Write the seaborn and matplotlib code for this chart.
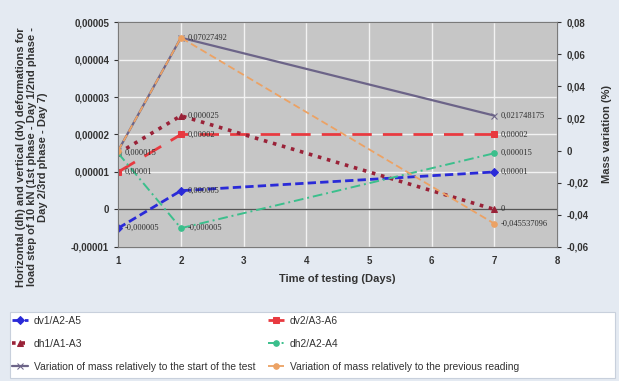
import matplotlib
matplotlib.use("Agg")
import matplotlib.pyplot as plt
import matplotlib.ticker as mticker
from matplotlib.patches import Rectangle
import numpy as np
import pandas as pd
import seaborn as sns

# Days of testing
days = [1, 2, 7]

# Deformations for the 10 kN load step (left axis)
dv1 = [-0.000005, 0.000005, 0.00001]
dv2 = [0.00001, 0.00002, 0.00002]
dh1 = [0.000015, 0.000025, 0.0]
dh2 = [0.000015, -0.000005, 0.000015]

# Mass variation in % (right axis)
mass_start = [0.0, 0.07027492, 0.021748175]
mass_prev = [0.0, 0.07027492, -0.045537096]

# Point labels ("" = not shown)
dv1_lbl = ["-0,000005", "0,000005", "0,00001"]
dv2_lbl = ["0,00001", "0,00002", "0,00002"]
dh1_lbl = ["0,000015", "0,000025", "0"]
dh2_lbl = ["", "-0,000005", "0,000015"]
mass_start_lbl = ["", "0,07027492", "0,021748175"]
mass_prev_lbl = ["", "", "-0,045537096"]

left_ticks = [-0.00001, 0, 0.00001, 0.00002, 0.00003, 0.00004, 0.00005]
right_ticks = [-0.06, -0.04, -0.02, 0, 0.02, 0.04, 0.06, 0.08]
x_ticks = [1, 2, 3, 4, 5, 6, 7, 8]

sns.set_style("white")
plt.rcParams["font.family"] = ["Liberation Sans", "DejaVu Sans"]

fig = plt.figure(figsize=(6.19, 3.81), dpi=100)
fig.patch.set_facecolor("#e4eaf2")
ax = fig.add_axes([0.191, 0.352, 0.709, 0.590])
ax.set_facecolor("#c6c6c6")
ax2 = ax.twinx()

left_series = [
    ("dv1/A2-A5", dv1, dv1_lbl, "#2a2ad8", (0, (3, 1.5)), "D", 2.0),
    ("dv2/A3-A6", dv2, dv2_lbl, "#e83a40", (0, (7, 4)), "s", 2.0),
    ("dh1/A1-A3", dh1, dh1_lbl, "#9a2238", (0, (1, 1.6)), "^", 2.6),
    ("dh2/A2-A4", dh2, dh2_lbl, "#3bbf8c", (0, (5, 2, 1, 2)), "o", 1.4),
]
right_series = [
    ("Variation of mass relatively to the start of the test", mass_start,
     mass_start_lbl, "#6c6488", "-", "x", 1.6),
    ("Variation of mass relatively to the previous reading", mass_prev,
     mass_prev_lbl, "#eca264", (0, (4, 2)), "o", 1.3),
]

handles = {}
for axis, series in ((ax, left_series), (ax2, right_series)):
    for name, vals, lbls, color, ls, mk, lw in series:
        df = pd.DataFrame({"day": days, "value": vals})
        sns.lineplot(data=df, x="day", y="value", ax=axis, color=color,
                     linestyle=ls, linewidth=lw, marker=mk, markersize=4,
                     markeredgecolor=color, label=name, legend=False)
        handles[name] = axis.lines[-1]
        for d, v, t in zip(days, vals, lbls):
            if t:
                axis.text(d + 0.1, v, t, fontsize=6, color="#2e2e2e",
                          family="Liberation Serif", va="center", ha="left")

ax.set_xlim(1, 8)
ax.set_ylim(-0.00001, 0.00005)
ax2.set_ylim(-0.06, 0.08)
ax.set_xticks(x_ticks)
ax.set_yticks(left_ticks)
ax2.set_yticks(right_ticks)


def comma_fmt(v, _pos):
    if abs(v) < 1e-12:
        return "0"
    s = ("%.5f" % v) if abs(v) < 0.001 else ("%.2f" % v)
    return s.replace(".", ",")


ax.yaxis.set_major_formatter(mticker.FuncFormatter(comma_fmt))
ax2.yaxis.set_major_formatter(mticker.FuncFormatter(comma_fmt))

ax.grid(True, color="#f2f2f2", linewidth=1.0)
ax.set_axisbelow(True)
ax.axhline(0, color="#555555", linewidth=1.0, zorder=1)

for a in (ax, ax2):
    for sp in a.spines.values():
        sp.set_color("#7a7a7a")
        sp.set_linewidth(0.8)
    a.tick_params(labelsize=7, colors="#333333", length=3)
for lab in ax.get_yticklabels() + ax2.get_yticklabels() + ax.get_xticklabels():
    lab.set_fontweight("bold")

ax.set_xlabel("Time of testing (Days)", fontsize=8, fontweight="bold",
              color="#333333", labelpad=6)
ax.set_ylabel("Horizontal (dh) and vertical (dv) deformations for\n"
              "load step of 10 kN (1st phase - Day 1/2nd phase -\n"
              "Day 2/3rd phase - Day 7)", fontsize=8, fontweight="bold",
              color="#333333", linespacing=1.1)
ax.yaxis.set_label_coords(-0.16, 0.40)
ax2.set_ylabel("Mass variation (%)", fontsize=8, fontweight="bold",
               color="#333333", labelpad=10)

# White panel behind the legend
fig.add_artist(Rectangle((10 / 619, 3 / 381), 605 / 619, 66 / 381,
                         transform=fig.transFigure, facecolor="white",
                         edgecolor="#c8d0dc", linewidth=0.8, zorder=0))

col1 = ["dv1/A2-A5", "dh1/A1-A3",
        "Variation of mass relatively to the start of the test"]
col2 = ["dv2/A3-A6", "dh2/A2-A4",
        "Variation of mass relatively to the previous reading"]
leg_kw = dict(loc="upper left", fontsize=7.4, frameon=False,
              handlelength=1.6, handletextpad=0.5, borderaxespad=0.0,
              borderpad=0.0, labelspacing=1.25)
leg1 = fig.legend([handles[n] for n in col1], col1,
                  bbox_to_anchor=(12 / 619, 1 - 316 / 381), **leg_kw)
leg2 = fig.legend([handles[n] for n in col2], col2,
                  bbox_to_anchor=(268 / 619, 1 - 316 / 381), **leg_kw)
for lg in (leg1, leg2):
    for t in lg.get_texts():
        t.set_color("#333333")

fig.savefig("out.png", dpi=100, facecolor=fig.get_facecolor())
